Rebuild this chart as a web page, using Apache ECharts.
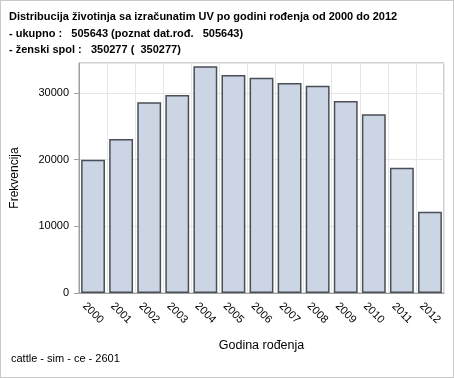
<!DOCTYPE html>
<html>
<head>
<meta charset="utf-8">
<script src="https://cdn.jsdelivr.net/npm/echarts@6/dist/echarts.min.js"></script>
<style>
  html, body { margin: 0; padding: 0; background: #fff; }
  #chart { width: 454px; height: 378px; box-sizing: border-box; border: 1px solid #c9c9c9; }
</style>
</head>
<body>
<div id="chart"></div>
<script>
// podaci
const years = ["2000", "2001", "2002", "2003", "2004", "2005", "2006",
  "2007", "2008", "2009", "2010", "2011", "2012"];
const counts = [20000, 23100, 28600, 29700, 34000, 32700, 32300,
  31500, 31100, 28800, 26800, 18800, 12200];
const titleLines = [
  "Distribucija životinja sa izračunatim UV po godini rođenja od 2000 do 2012",
  "- ukupno :   505643 (poznat dat.rođ.   505643)",
  "- ženski spol :   350277 (  350277)"
];
const footnote = "cattle - sim - ce - 2601";

const font = "'Liberation Sans', Arial, sans-serif";
const chart = echarts.init(document.getElementById("chart"));

chart.setOption({
  animation: false,
  textStyle: { fontFamily: font },
  title: [
    {
      text: titleLines.join("\n"),
      left: 8,
      top: 8,
      padding: 0,
      textStyle: { fontSize: 11, fontWeight: "bold", color: "#000", lineHeight: 16.5, fontFamily: font }
    },
    {
      text: footnote,
      left: 10,
      top: 352,
      padding: 0,
      textStyle: { fontSize: 11, fontWeight: "normal", color: "#000", fontFamily: font }
    }
  ],
  grid: { left: 72, right: 9, top: 62, bottom: 84, show: true, borderColor: "#a0a0a0", borderWidth: 1 },
  xAxis: {
    type: "category",
    data: years,
    name: "Godina rođenja",
    nameLocation: "middle",
    nameGap: 46,
    nameTextStyle: { fontSize: 12.5, color: "#000" },
    axisLine: { lineStyle: { color: "#a0a0a0" } },
    axisTick: { alignWithLabel: true, length: 5, lineStyle: { color: "#a0a0a0" } },
    axisLabel: { rotate: -45, align: "center", verticalAlign: "middle", margin: 20, fontSize: 11, color: "#000" },
    splitLine: { show: true, lineStyle: { color: "#e6e6e6" } }
  },
  yAxis: {
    type: "value",
    min: 0,
    max: 34500,
    interval: 10000,
    name: "Frekvencija",
    nameLocation: "middle",
    nameGap: 58,
    nameTextStyle: { fontSize: 12, color: "#000" },
    axisLine: { show: true, lineStyle: { color: "#a0a0a0" } },
    axisTick: { show: true, length: 5, lineStyle: { color: "#a0a0a0" } },
    axisLabel: { margin: 10, fontSize: 11, color: "#000", showMaxLabel: false, formatter: (v) => String(v) },
    splitLine: { lineStyle: { color: "#e6e6e6" } }
  },
  series: [{
    type: "bar",
    data: counts,
    barCategoryGap: "15%",
    itemStyle: { color: "#cbd5e4", borderColor: "#4a4f57", borderWidth: 1.5 }
  }]
});
</script>
</body>
</html>
